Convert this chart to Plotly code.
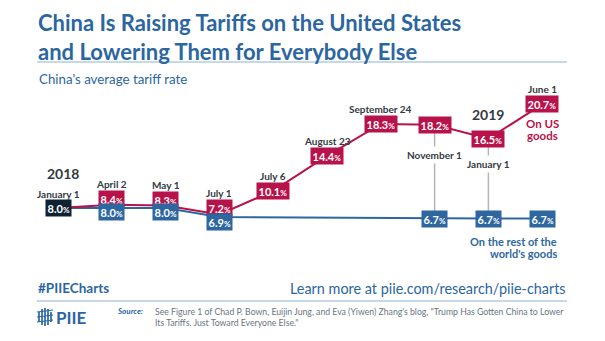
import plotly.graph_objects as go

# ---------------- data ----------------
dates = ["January 1", "April 2", "May 1", "July 1", "July 6", "August 23",
         "September 24", "November 1", "January 1 ", "June 1"]
us_rate = [8.0, 8.4, 8.3, 7.2, 10.1, 14.4, 18.3, 18.2, 16.5, 20.7]
world_rate = [8.0, 8.0, 8.0, 6.9, None, None, None, 6.7, 6.7, 6.7]

RED = "#b8124a"
BLUE = "#2e67a0"
NAVY = "#0f2233"
TITLE_BLUE = "#2b66a0"
DARK = "#333a42"
FONT = "Lato"

W, H = 605, 341
x0_px, step_px = 58, 53.8
y_ref_val, y_ref_px, px_per_unit = 8.0, 208, 8.155

xr = [-x0_px / step_px, (W - x0_px) / step_px]
yr = [y_ref_val - (H - y_ref_px) / px_per_unit, y_ref_val + y_ref_px / px_per_unit]

idx = list(range(len(dates)))

fig = go.Figure()
fig.add_trace(go.Scatter(x=idx, y=world_rate, mode="lines", connectgaps=True,
                         line=dict(color=BLUE, width=2), hoverinfo="skip"))
fig.add_trace(go.Scatter(x=idx, y=us_rate, mode="lines",
                         line=dict(color=RED, width=2), hoverinfo="skip"))

ann = []


def pct(v):
    return f"<b>{v:.1f}<span style='font-size:8px'>%</span></b>"


def box(i, v, color, yshift=0):
    ann.append(dict(x=i, y=v, xref="x", yref="y", text=pct(v), showarrow=False,
                    bgcolor=color, font=dict(color="white", size=11, family=FONT),
                    borderpad=1.5, yshift=yshift, xanchor="center", yanchor="middle"))


def label(i, v, text, yshift, bg=None):
    d = dict(x=i, y=v, xref="x", yref="y", text=f"<b>{text}</b>", showarrow=False,
             font=dict(color=DARK, size=10, family=FONT), yshift=yshift,
             xanchor="center", yanchor="middle")
    if bg:
        d["bgcolor"] = bg
        d["borderpad"] = 2
    ann.append(d)


# gray connectors for November 1 and January 1 (2019)
for i in (7, 8):
    fig.add_shape(type="line", xref="x", yref="y", x0=i, x1=i,
                  y0=world_rate[i] + 0.7, y1=us_rate[i] - 1.0,
                  line=dict(color="#b5b5b5", width=1.5), layer="below")

# first point shared
box(0, us_rate[0], NAVY)
label(0, us_rate[0], dates[0], 14)

us_shift = {1: 6, 2: 6, 3: 7}
world_shift = {1: -4, 2: -4, 3: -5}
for i in range(1, len(dates)):
    box(i, us_rate[i], RED, us_shift.get(i, 0))
    if world_rate[i] is not None:
        box(i, world_rate[i], BLUE, world_shift.get(i, 0))
for i in range(1, len(dates)):
    if i in (7, 8):
        continue
    label(i, us_rate[i], dates[i], us_shift.get(i, 0) + 15)
label(7, us_rate[7], dates[7], -30, bg="white")
label(8, us_rate[8], dates[8].strip(), -25, bg="white")

# year labels
ann.append(dict(x=0, y=us_rate[0], xref="x", yref="y", text="<b>2018</b>", showarrow=False,
                font=dict(color=DARK, size=14, family=FONT), xshift=-13, yshift=35,
                xanchor="left", yanchor="middle"))
ann.append(dict(x=8, y=us_rate[8], xref="x", yref="y", text="<b>2019</b>", showarrow=False,
                font=dict(color=DARK, size=14, family=FONT), yshift=24,
                xanchor="center", yanchor="middle"))

# series labels
for txt, ys in [("On US", -19), ("goods", -31)]:
    ann.append(dict(x=9, y=us_rate[9], xref="x", yref="y", text=f"<b>{txt}</b>",
                    showarrow=False, font=dict(color=RED, size=11.5, family=FONT),
                    yshift=ys, xanchor="center", yanchor="middle"))
for txt, ys in [("On the rest of the", -23), ("world's goods", -35)]:
    ann.append(dict(x=9, y=world_rate[9], xref="x", yref="y", text=f"<b>{txt}</b>",
                    showarrow=False, font=dict(color=BLUE, size=11, family=FONT),
                    xshift=17, yshift=ys, xanchor="right", yanchor="middle"))


def px(x):
    return x / W


def py(y):
    return 1 - y / H


# header
ann.append(dict(x=px(36), y=py(7), xref="paper", yref="paper",
                text="<b>China Is Raising Tariffs on the United States<br>and Lowering Them for Everybody Else</b>",
                showarrow=False, xanchor="left", yanchor="top", align="left",
                font=dict(color=TITLE_BLUE, size=22, family=FONT, weight=900)))
ann.append(dict(x=px(37), y=py(79), xref="paper", yref="paper",
                text="China's average tariff rate", showarrow=False,
                xanchor="left", yanchor="middle",
                font=dict(color=TITLE_BLUE, size=13.3, family=FONT)))

# footer
ann.append(dict(x=px(36), y=py(288), xref="paper", yref="paper", text="<b>#PIIECharts</b>",
                showarrow=False, xanchor="left", yanchor="middle",
                font=dict(color=TITLE_BLUE, size=13.5, family=FONT, weight=900)))
ann.append(dict(x=px(568), y=py(288), xref="paper", yref="paper",
                text="Learn more at piie.com/research/piie-charts",
                showarrow=False, xanchor="right", yanchor="middle",
                font=dict(color=TITLE_BLUE, size=14.4, family=FONT)))
ann.append(dict(x=px(54), y=py(317), xref="paper", yref="paper", text="<b>PIIE</b>",
                showarrow=False, xanchor="left", yanchor="middle",
                font=dict(color=TITLE_BLUE, size=17, family=FONT, weight=900)))
ann.append(dict(x=px(145), y=py(311), xref="paper", yref="paper", text="<b><i>Source:</i></b>",
                showarrow=False, xanchor="right", yanchor="middle",
                font=dict(color=TITLE_BLUE, size=8, family=FONT)))
ann.append(dict(x=px(153), y=py(316.5), xref="paper", yref="paper",
                text="See Figure 1 of Chad P. Bown, Euijin Jung, and Eva (Yiwen) Zhang's blog, \"Trump Has Gotten China to Lower<br>Its Tariffs. Just Toward Everyone Else.\"",
                showarrow=False, xanchor="left", yanchor="middle", align="left",
                font=dict(color="#6a7580", size=8.7, family=FONT)))

shapes = [
    dict(type="line", xref="paper", yref="paper", x0=px(37), x1=px(567), y0=py(62), y1=py(62),
         line=dict(color="#8fb2d3", width=1.2)),
    dict(type="line", xref="paper", yref="paper", x0=px(37), x1=px(567), y0=py(301), y1=py(301),
         line=dict(color="#8fb2d3", width=1.2)),
]
# logo icon: small stylised columns
for k, (x, h) in enumerate([(38, 10), (41, 16), (44, 18), (47, 16), (50, 10)]):
    shapes.append(dict(type="rect", xref="paper", yref="paper", x0=px(x), x1=px(x + 2),
                       y0=py(317 + h / 2), y1=py(317 - h / 2),
                       fillcolor=TITLE_BLUE, line=dict(width=0), opacity=0.85))
for yy in (312, 317, 322):
    shapes.append(dict(type="line", xref="paper", yref="paper", x0=px(37), x1=px(53),
                       y0=py(yy), y1=py(yy - 2), line=dict(color=TITLE_BLUE, width=1)))

for s in shapes:
    fig.add_shape(**s)

fig.update_layout(
    width=W, height=H, margin=dict(l=0, r=0, t=0, b=0),
    paper_bgcolor="white", plot_bgcolor="white", showlegend=False,
    xaxis=dict(range=xr, visible=False, fixedrange=True),
    yaxis=dict(range=yr, visible=False, fixedrange=True),
    annotations=ann,
)

fig.write_html("out.html")
